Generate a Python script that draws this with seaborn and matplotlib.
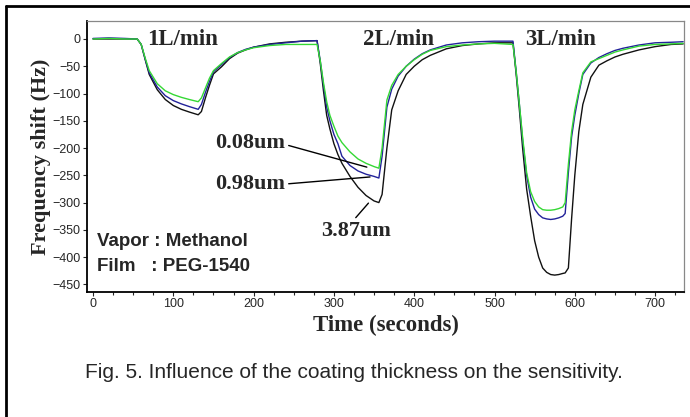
import matplotlib
matplotlib.use("Agg")
import numpy as np
import pandas as pd
import matplotlib.pyplot as plt
from matplotlib.ticker import MultipleLocator
import seaborn as sns


# Data (time in seconds, frequency shift in Hz)
time_s = [0, 20, 40, 55, 60, 65, 70, 80, 90, 100, 110, 120, 131, 135, 140, 145, 150,
          160, 170, 180, 190, 200, 220, 240, 260, 279,
          283, 287, 291, 295, 300, 305, 310, 320, 330, 340, 350, 356,
          360, 366, 372, 380, 390, 400, 410, 420, 440, 460, 480, 500, 523,
          527, 531, 535, 540, 545, 550, 555, 560, 565, 570, 575, 580, 585, 588,
          592, 596, 600, 605, 610, 620, 630, 640, 650, 660, 680, 700, 720, 735]

film_008 = [0, 1, 0, 0, -10, -35, -58, -82, -95, -102, -107, -111, -115, -108, -90, -72, -58,
            -45, -33, -25, -20, -16, -12, -10, -10, -10,
            -40, -80, -115, -140, -160, -178, -190, -207, -220, -228, -234, -237,
            -200, -112, -85, -65, -50, -38, -28, -21, -14, -11, -9, -8, -10,
            -60, -120, -180, -245, -280, -298, -308, -313, -314, -314, -313, -311, -308, -300,
            -230, -170, -130, -95, -62, -42, -36, -30, -24, -20, -13, -10, -9, -8]

film_098 = [1, 2, 1, 0, -10, -37, -62, -88, -104, -113, -119, -124, -129, -120, -98, -78, -60,
            -47, -34, -25, -19, -15, -10, -7, -4, -3,
            -40, -85, -125, -150, -175, -192, -215, -232, -242, -248, -252, -255,
            -215, -125, -92, -68, -50, -37, -27, -20, -11, -7, -5, -4, -4,
            -60, -120, -185, -250, -290, -312, -322, -328, -330, -331, -330, -328, -325, -320,
            -245, -180, -140, -100, -65, -44, -34, -27, -21, -17, -11, -7, -6, -5]

film_387 = [0, 0, 0, 0, -10, -38, -65, -93, -111, -122, -129, -134, -139, -133, -108, -85, -64,
            -51, -36, -26, -20, -15, -9, -6, -4, -3,
            -45, -95, -140, -165, -192, -212, -228, -252, -272, -287, -297, -300,
            -285, -200, -130, -95, -65, -50, -38, -30, -18, -12, -9, -7, -7,
            -65, -130, -200, -275, -325, -370, -400, -420, -428, -432, -433, -432, -430, -429,
            -420, -330, -250, -170, -120, -70, -48, -40, -33, -28, -20, -14, -10, -9]

films = ["3.87um", "0.98um", "0.08um"]
colors = {"0.08um": "#35d835", "0.98um": "#22229a", "3.87um": "#111111"}

df = pd.DataFrame({
    "time": time_s * 3,
    "shift": film_387 + film_098 + film_008,
    "film": ["3.87um"] * len(time_s) + ["0.98um"] * len(time_s) + ["0.08um"] * len(time_s),
})

sns.set_style("white")
plt.rcParams["font.family"] = ["Liberation Sans", "DejaVu Sans"]

fig = plt.figure(figsize=(6.9, 4.17), dpi=100)
ax = fig.add_axes([87 / 690, 1 - 292 / 417, (684 - 87) / 690, (292 - 21) / 417])

sns.lineplot(data=df, x="time", y="shift", hue="film", hue_order=films,
             palette=colors, linewidth=1.0, legend=False, ax=ax)

ax.set_xlim(-7.5, 736)
ax.set_ylim(-464, 33)
ax.xaxis.set_major_locator(MultipleLocator(100))
ax.xaxis.set_minor_locator(MultipleLocator(25))
ax.yaxis.set_major_locator(MultipleLocator(50))
ax.tick_params(axis="both", which="both", direction="out", length=3, width=0.8,
               labelsize=9, pad=1.5, bottom=True, left=True)
ax.tick_params(axis="x", which="minor", length=2)

for side in ["left", "bottom"]:
    ax.spines[side].set_color("black")
    ax.spines[side].set_linewidth(1.3)
for side in ["top", "right"]:
    ax.spines[side].set_color("#888888")
    ax.spines[side].set_linewidth(0.9)

serif = ["Liberation Serif", "DejaVu Serif"]
ax.set_xlabel("Time (seconds)", family=serif, fontweight="bold", fontsize=16.5, labelpad=3)
ax.set_ylabel("Frequency shift (Hz)", family=serif, fontweight="bold", fontsize=16, labelpad=1)

# flow-rate labels
for x, lab in [(67, "1L/min"), (336, "2L/min"), (538, "3L/min")]:
    ax.text(x, -1, lab, family=serif, fontweight="bold", fontsize=16.5, va="center", ha="left")

# thickness labels with leader lines
ax.annotate("0.08um", xy=(341, -235), xytext=(196, -190), family=serif, fontweight="bold",
            fontsize=16, ha="center", va="center",
            arrowprops=dict(arrowstyle="-", color="black", lw=1.0, shrinkA=0, shrinkB=0,
                            relpos=(1.0, 0.4)))
ax.annotate("0.98um", xy=(345, -253), xytext=(196, -266), family=serif, fontweight="bold",
            fontsize=16, ha="center", va="center",
            arrowprops=dict(arrowstyle="-", color="black", lw=1.0, shrinkA=0, shrinkB=0,
                            relpos=(1.0, 0.5)))
ax.annotate("3.87um", xy=(343, -301), xytext=(328, -352), family=serif, fontweight="bold",
            fontsize=16, ha="center", va="center",
            arrowprops=dict(arrowstyle="-", color="black", lw=1.0, shrinkA=0, shrinkB=0,
                            relpos=(0.45, 1.0)))

ax.text(5, -371, "Vapor : Methanol", fontweight="bold", fontsize=13.5, va="center", ha="left")
ax.text(5, -418, "Film   : PEG-1540", fontweight="bold", fontsize=13.5, va="center", ha="left")

fig.text(354 / 690, 1 - 372 / 417, "Fig. 5. Influence of the coating thickness on the sensitivity.",
         fontsize=15, ha="center", va="center")

# outer frame (top and left edges visible)
fig.add_artist(plt.Line2D([6 / 690, 1.0], [1 - 6 / 417, 1 - 6 / 417], color="black", lw=2,
                          transform=fig.transFigure))
fig.add_artist(plt.Line2D([6 / 690, 6 / 690], [0.0, 1 - 6 / 417], color="black", lw=2,
                          transform=fig.transFigure))

fig.savefig("out.png", dpi=100)
